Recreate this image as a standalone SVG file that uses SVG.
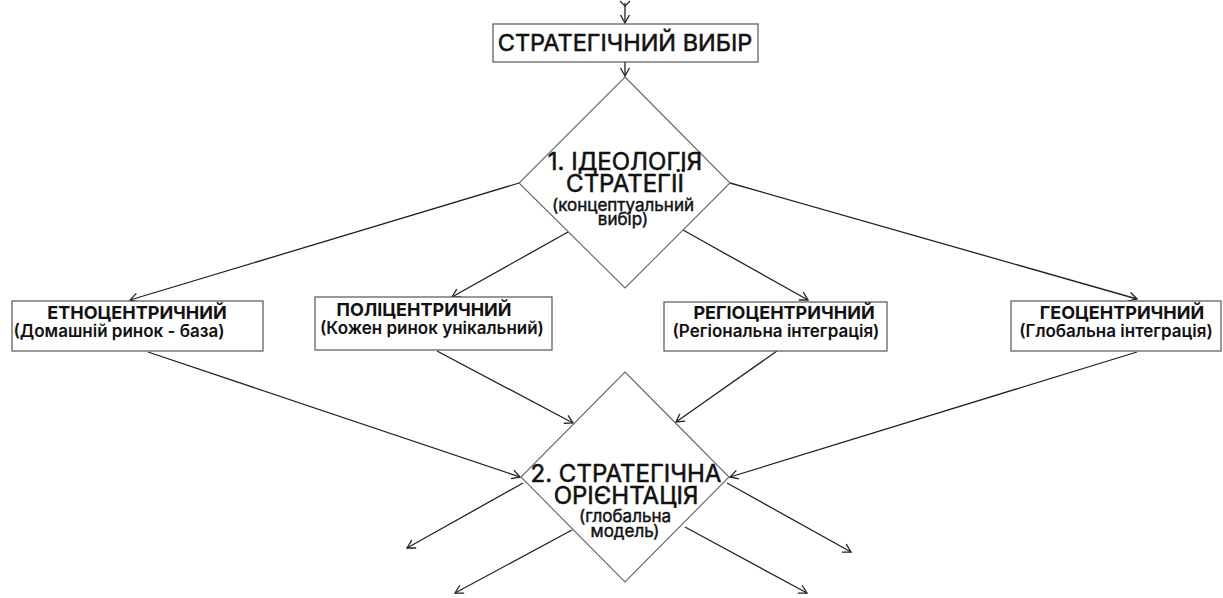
<svg xmlns="http://www.w3.org/2000/svg" width="1223" height="598" viewBox="0 0 1223 598">
  <style>
    .box { fill: #ffffff; stroke: #555555; stroke-width: 1.2; }
    .dia { fill: #ffffff; stroke: #666666; stroke-width: 1.1; }
    .edge { stroke: #222222; stroke-width: 1.3; fill: none; marker-end: url(#arrow); }
    text { font-family: Inter, "Noto Sans", "DejaVu Sans", sans-serif; fill: #111111; text-anchor: middle; }
    /* medium-weight look: regular face with a thin outline */
    .title { font-size: 23.5px; font-weight: 400; stroke: #111111; stroke-width: 0.55; }
    .big { font-size: 24px; font-weight: 400; stroke: #111111; stroke-width: 0.55; }
    .sub { font-size: 17px; font-weight: 400; stroke: #111111; stroke-width: 0.45; }
    .head { font-size: 18px; font-weight: 700; }
    .note { font-size: 17px; font-weight: 600; }
  </style>
  <defs>
    <marker id="arrow" viewBox="-10 -6 12 12" markerWidth="12" markerHeight="12" refX="0" refY="0" orient="auto" markerUnits="userSpaceOnUse">
      <path d="M-8,-4.5 L0,0 L-8,4.5" fill="none" stroke="#222222" stroke-width="1.3"/>
    </marker>
  </defs>

  <!-- connectors -->
  <g id="connectors">
    <path d="M625,6 L630,1 M625,6 L620,1" stroke="#222222" stroke-width="1.1" fill="none"/>
    <line class="edge" x1="625" y1="3" x2="625" y2="23"/>
    <line class="edge" x1="625" y1="62" x2="625" y2="76"/>
    <line class="edge" x1="519" y1="183" x2="130" y2="300"/>
    <line class="edge" x1="568" y1="232" x2="452" y2="297"/>
    <line class="edge" x1="683" y1="230" x2="808" y2="300"/>
    <line class="edge" x1="730" y1="183" x2="1137" y2="299"/>
    <line class="edge" x1="148" y1="352" x2="520" y2="477"/>
    <line class="edge" x1="437" y1="351" x2="573" y2="423"/>
    <line class="edge" x1="777" y1="351" x2="676" y2="422"/>
    <line class="edge" x1="1137" y1="352" x2="730" y2="477"/>
    <line class="edge" x1="523" y1="483" x2="407" y2="548"/>
    <line class="edge" x1="572" y1="530" x2="455" y2="593"/>
    <line class="edge" x1="727" y1="483" x2="851" y2="552"/>
    <line class="edge" x1="685" y1="527" x2="807" y2="593"/>
  </g>

  <g id="strategic-choice">
    <rect class="box" x="493" y="24" width="265" height="38"/>
    <text class="title" x="625" y="51">СТРАТЕГІЧНИЙ ВИБІР</text>
  </g>

  <g id="ideology">
    <polygon class="dia" points="625,77 730,183 625,288 519,183"/>
    <text class="big" x="625" y="170">1. ІДЕОЛОГІЯ</text>
    <text class="big" x="625" y="192">СТРАТЕГІЇ</text>
    <text class="sub" x="623" y="211">(концептуальний</text>
    <text class="sub" x="623" y="225">вибір)</text>
  </g>

  <g id="ethnocentric">
    <rect class="box" x="12" y="301" width="251" height="50"/>
    <text class="head" x="137" y="319">ЕТНОЦЕНТРИЧНИЙ</text>
    <text class="note" x="119" y="337">(Домашній ринок - база)</text>
  </g>

  <g id="polycentric">
    <rect class="box" x="315" y="297" width="237" height="53"/>
    <text class="head" x="424" y="316">ПОЛІЦЕНТРИЧНИЙ</text>
    <text class="note" x="432" y="334">(Кожен ринок унікальний)</text>
  </g>

  <g id="regiocentric">
    <rect class="box" x="664" y="302" width="223" height="49"/>
    <text class="head" x="784" y="319">РЕГІОЦЕНТРИЧНИЙ</text>
    <text class="note" x="776" y="337">(Регіональна інтеграція)</text>
  </g>

  <g id="geocentric">
    <rect class="box" x="1011" y="301" width="210" height="50"/>
    <text class="head" x="1122" y="319">ГЕОЦЕНТРИЧНИЙ</text>
    <text class="note" x="1116" y="337">(Глобальна інтеграція)</text>
  </g>

  <g id="orientation">
    <polygon class="dia" points="625,372 729,477 625,582 521,477"/>
    <text class="big" x="626" y="482">2. СТРАТЕГІЧНА</text>
    <text class="big" x="626" y="504">ОРІЄНТАЦІЯ</text>
    <text class="sub" x="625" y="522">(глобальна</text>
    <text class="sub" x="625" y="537">модель)</text>
  </g>
</svg>
